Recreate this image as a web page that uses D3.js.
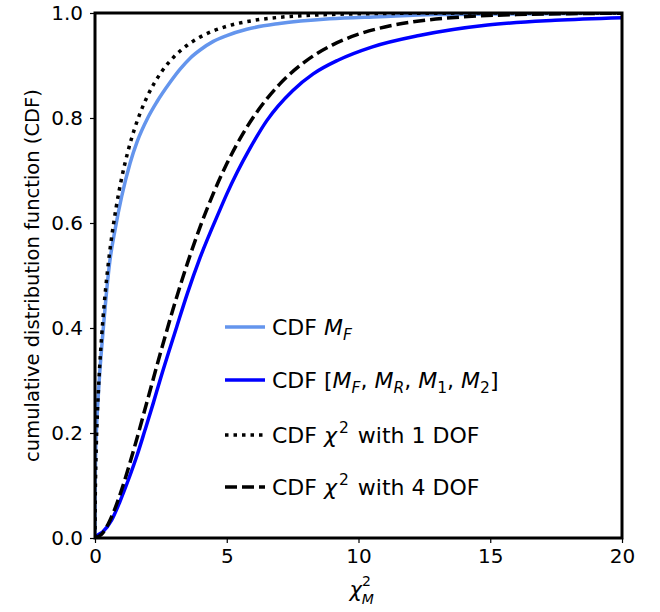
<!DOCTYPE html>
<html>
<head>
<meta charset="utf-8">
<script src="https://cdn.jsdelivr.net/npm/d3@7"></script>
<style>
  html, body { margin: 0; padding: 0; background: #fff; }
  text { font-family: "DejaVu Sans", sans-serif; fill: #000; }
</style>
</head>
<body>
<svg id="chart" width="660" height="612"></svg>
<script>
// ---- data ----
const xTicks = [0, 5, 10, 15, 20];
const yTicks = [0.0, 0.2, 0.4, 0.6, 0.8, 1.0];

// empirical CDF of M_F
const mfX = [0, 0.005, 0.02, 0.05, 0.13, 0.32, 0.57, 0.76, 1.01, 1.33, 1.6, 2.0, 2.34, 2.85, 3.23, 3.61, 4.0, 4.49, 5.0, 5.76, 7.0, 8.9, 10.8, 12.9, 15, 20];
const mfY = [0, 0.08, 0.15, 0.20, 0.276, 0.402, 0.53, 0.587, 0.650, 0.714, 0.755, 0.800, 0.830, 0.868, 0.893, 0.914, 0.930, 0.946, 0.957, 0.969, 0.980, 0.989, 0.993, 0.997, 0.998, 1.0];

// empirical CDF of [M_F, M_R, M_1, M_2]
const m4X = [0, 0.1, 0.3, 0.63, 0.95, 1.26, 1.6, 1.9, 2.2, 2.47, 3.1, 3.5, 3.98, 4.74, 5.0, 5.4, 5.88, 6.52, 7.5, 8.28, 9.22, 10.5, 12.3, 14.9, 17.46, 20];
const m4Y = [0, 0.005, 0.012, 0.034, 0.07, 0.110, 0.158, 0.206, 0.255, 0.301, 0.402, 0.465, 0.533, 0.625, 0.655, 0.697, 0.742, 0.795, 0.852, 0.884, 0.910, 0.935, 0.957, 0.977, 0.986, 0.991];

// chi-square CDF, 1 DOF
const c1X = [0, 0.001, 0.005, 0.01, 0.02, 0.05, 0.1, 0.15, 0.2, 0.3, 0.4, 0.5, 0.6, 0.8, 1, 1.25, 1.5, 1.75, 2, 2.5, 3, 3.5, 4, 5, 6, 7, 8, 9, 10, 12, 14, 16, 20];
const c1Y = [0, 0.0252, 0.0564, 0.0797, 0.1125, 0.1769, 0.2482, 0.3015, 0.3453, 0.4161, 0.4729, 0.5205, 0.5614, 0.6289, 0.6827, 0.7364, 0.7793, 0.8141, 0.8427, 0.8862, 0.9167, 0.9386, 0.9545, 0.9747, 0.9857, 0.9918, 0.9953, 0.9973, 0.9984, 0.9995, 0.9998, 0.9999, 1.0];

// chi-square CDF, 4 DOF
const c4X = [0, 0.25, 0.5, 0.75, 1, 1.5, 2, 2.5, 3, 3.5, 4, 4.5, 5, 5.5, 6, 7, 8, 9, 10, 11, 12, 14, 16, 18, 20];
const c4Y = [0, 0.0072, 0.0265, 0.0550, 0.0902, 0.1734, 0.2642, 0.3554, 0.4422, 0.5221, 0.5940, 0.6574, 0.7127, 0.7603, 0.8009, 0.8641, 0.9084, 0.9389, 0.9596, 0.9734, 0.9826, 0.9927, 0.9970, 0.9988, 0.9995];

// ---- layout ----
const L = 95, R = 622, T = 13, B = 538;
const svg = d3.select("#chart");
const x = d3.scaleLinear().domain([0, 20]).range([L, R]);
const y = d3.scaleLinear().domain([0, 1]).range([B, T]);

svg.append("defs").append("clipPath").attr("id", "clip")
  .append("rect").attr("x", L).attr("y", T).attr("width", R - L).attr("height", B - T);

const line = d3.line().x(d => x(d[0])).y(d => y(d[1])).curve(d3.curveMonotoneX);
const zip = (a, b) => a.map((v, i) => [v, b[i]]);

const series = [
  { xs: mfX, ys: mfY, color: "#6495ED", dash: null },
  { xs: m4X, ys: m4Y, color: "#0000FF", dash: null },
  { xs: c1X, ys: c1Y, color: "#000", dash: "3.5,5" },
  { xs: c4X, ys: c4Y, color: "#000", dash: "12,5" }
];

const g = svg.append("g").attr("clip-path", "url(#clip)");
series.forEach(s => {
  g.append("path").datum(zip(s.xs, s.ys))
    .attr("d", line).attr("fill", "none")
    .attr("stroke", s.color).attr("stroke-width", 3.5)
    .attr("stroke-dasharray", s.dash);
});

// axes
const xAxis = d3.axisBottom(x).tickValues(xTicks).tickFormat(d3.format("d")).tickSize(5).tickPadding(6);
const yAxis = d3.axisLeft(y).tickValues(yTicks).tickFormat(d3.format(".1f")).tickSize(5).tickPadding(7);
const gx = svg.append("g").attr("transform", `translate(0,${B})`).call(xAxis);
const gy = svg.append("g").attr("transform", `translate(${L},0)`).call(yAxis);
[gx, gy].forEach(a => {
  a.select(".domain").remove();
  a.selectAll(".tick line").attr("stroke", "#000").attr("stroke-width", 1.2);
  a.selectAll(".tick text").style("font-size", "20px").style("font-family", "DejaVu Sans");
});

// frame
svg.append("rect").attr("x", L).attr("y", T).attr("width", R - L).attr("height", B - T)
  .attr("fill", "none").attr("stroke", "#000").attr("stroke-width", 3);

// axis labels
svg.append("text").attr("transform", `translate(33,${(T + B) / 2}) rotate(-90)`)
  .attr("text-anchor", "middle").attr("dominant-baseline", "middle")
  .style("font-size", "19.5px").text("cumulative distribution function (CDF)");

const xl = svg.append("text").attr("x", (L + R) / 2 - 9).attr("y", 597)
  .attr("text-anchor", "start").style("font-size", "21px");
xl.append("tspan").style("font-style", "italic").text("χ");
xl.append("tspan").attr("dy", -11).style("font-size", "14px").text("2");
xl.append("tspan").attr("dx", -9).attr("dy", 18).style("font-size", "14px").style("font-style", "italic").text("M");

// legend
const legY = [327, 380, 435, 487];
const leg = svg.append("g");
series.forEach((s, i) => {
  leg.append("line").attr("x1", 225).attr("x2", 265).attr("y1", legY[i]).attr("y2", legY[i])
    .attr("stroke", s.color).attr("stroke-width", 3.5).attr("stroke-dasharray", s.dash);
});
function addText(i, parts) {
  const t = leg.append("text").attr("x", 272).attr("y", legY[i] + 8).style("font-size", "22px");
  parts.forEach(p => {
    const ts = t.append("tspan").text(p.t);
    if (p.i) ts.style("font-style", "italic");
    if (p.sub) ts.attr("dy", 5).style("font-size", "15.5px");
    if (p.sup) ts.attr("dy", -10).style("font-size", "15.5px");
    if (p.back) ts.attr("dy", p.back);
    if (p.dx) ts.attr("dx", p.dx);
  });
}
addText(0, [{t: "CDF "}, {t: "M", i: 1}, {t: "F", i: 1, sub: 1}]);
addText(1, [{t: "CDF ["}, {t: "M", i: 1}, {t: "F", i: 1, sub: 1}, {t: ", ", back: -5},
            {t: "M", i: 1}, {t: "R", i: 1, sub: 1}, {t: ", ", back: -5},
            {t: "M", i: 1}, {t: "1", sub: 1}, {t: ", ", back: -5},
            {t: "M", i: 1}, {t: "2", sub: 1}, {t: "]", back: -5}]);
addText(2, [{t: "CDF "}, {t: "χ", i: 1}, {t: "2", sup: 1, dx: 2}, {t: " with 1 DOF", back: 10, dx: 2}]);
addText(3, [{t: "CDF "}, {t: "χ", i: 1}, {t: "2", sup: 1, dx: 2}, {t: " with 4 DOF", back: 10, dx: 2}]);
</script>
</body>
</html>
